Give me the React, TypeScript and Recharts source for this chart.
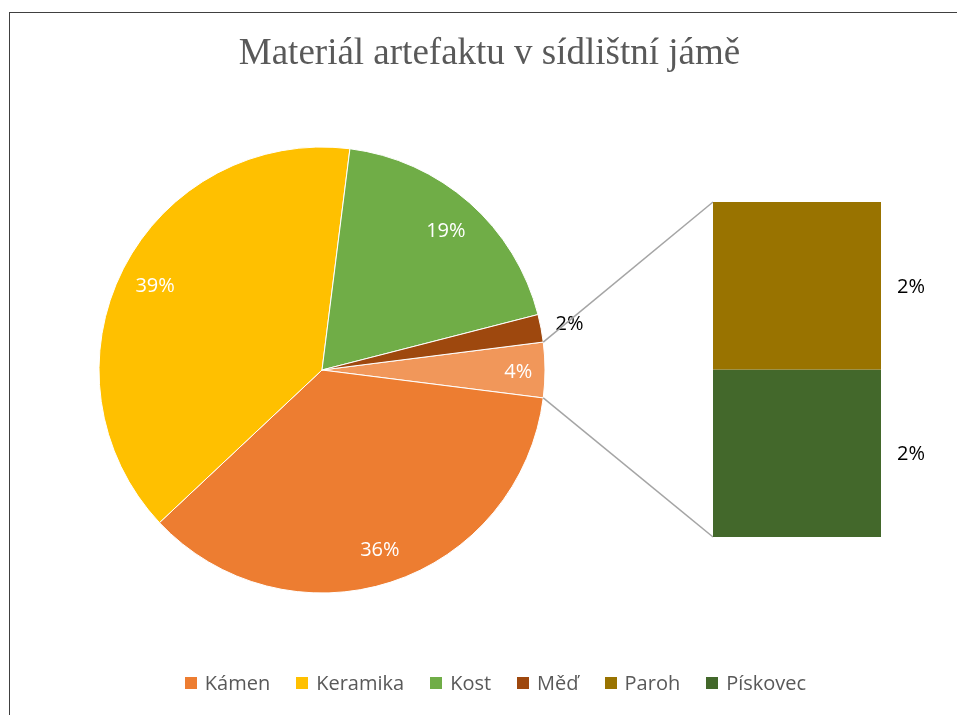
import { PieChart, Pie, Cell, BarChart, Bar, XAxis, YAxis, LabelList, Legend, Customized } from 'recharts'

// data (percent of artefacts)
const categories = ['Kámen', 'Keramika', 'Kost', 'Měď', 'Paroh', 'Pískovec']
const values = [36, 39, 19, 2, 2, 2]
const colors = ['#ED7D31', '#FFC000', '#70AD47', '#9E480E', '#997300', '#43682B']
const otherParts = ['Paroh', 'Pískovec']
const otherName = 'Ostatní'
const otherColor = '#F1975A'

const TITLE = 'Materiál artefaktu v sídlištní jámě'

const W = 941
const H = 699
const PIE_CX = 314
const PIE_CY = 362
const PIE_R = 223
const BAR_X = 705
const BAR_Y = 194
const BAR_W = 168
const BAR_H = 335
const RADIAN = Math.PI / 180
const SANS = "'Open Sans', 'Noto Sans', sans-serif"
const TEXT_GREY = '#595959'

const total = values.reduce((s, v) => s + v, 0)
const valueOf = (name: string) => values[categories.indexOf(name)]
const colorOf = (name: string) => colors[categories.indexOf(name)]
const otherValue = otherParts.reduce((s, n) => s + valueOf(n), 0)

const pieData = [
  { name: otherName, value: otherValue, color: otherColor },
  ...categories
    .filter((c) => !otherParts.includes(c))
    .map((c) => ({ name: c, value: valueOf(c), color: colorOf(c) })),
]

// one stacked column, first part at the top
const barRow: Record<string, string | number> = { name: otherName }
otherParts.forEach((p) => (barRow[p] = valueOf(p)))
const barData = [barRow]

// "other" slice centred on the right side, slices run clockwise
const startAngle = (otherValue / total) * 180
const endAngle = startAngle - 360

function PieLabel(props: any) {
  const { cx, cy, midAngle, outerRadius, percent } = props
  const outside = percent < 0.03
  const r = outside ? outerRadius + 29 : outerRadius * (percent < 0.05 ? 0.88 : 0.84)
  const x = cx + r * Math.cos(-midAngle * RADIAN)
  const y = cy + r * Math.sin(-midAngle * RADIAN)
  return (
    <text
      x={x}
      y={y}
      fill={outside ? '#000' : '#fff'}
      textAnchor="middle"
      dominantBaseline="central"
      fontSize={20}
      fontFamily={SANS}
    >
      {Math.round(percent * 100)}%
    </text>
  )
}

function Title() {
  return (
    <text
      x={481.5}
      y={56}
      textAnchor="middle"
      fontSize={37}
      fontFamily="'Liberation Serif', 'DejaVu Serif', serif"
      fill={TEXT_GREY}
    >
      {TITLE}
    </text>
  )
}

function Connectors() {
  const a = startAngle * RADIAN
  const x0 = PIE_CX + PIE_R * Math.cos(a)
  const yTop = PIE_CY - PIE_R * Math.sin(a)
  const yBot = PIE_CY + PIE_R * Math.sin(a)
  return (
    <g stroke="#A5A5A5" strokeWidth={1.5}>
      <line x1={x0} y1={yTop} x2={BAR_X} y2={BAR_Y} />
      <line x1={x0} y1={yBot} x2={BAR_X} y2={BAR_Y + BAR_H} />
    </g>
  )
}

function LegendContent() {
  return (
    <div style={{ display: 'flex', justifyContent: 'center', alignItems: 'center', gap: 26 }}>
      {categories.map((c, i) => (
        <div key={c} style={{ display: 'flex', alignItems: 'center', gap: 8 }}>
          <span style={{ width: 12, height: 12, background: colors[i], display: 'inline-block' }} />
          <span style={{ fontFamily: SANS, fontSize: 20, color: TEXT_GREY, lineHeight: '24px' }}>{c}</span>
        </div>
      ))}
    </div>
  )
}

export default function App() {
  const pct = (v: any) => `${Math.round((Number(v) / total) * 100)}%`

  return (
    <div style={{ position: 'relative', width: W, height: H, overflow: 'hidden', background: '#fff' }}>
      {/* chart frame: only its top and left edges fall inside the window */}
      <div
        style={{
          position: 'fixed',
          left: 9,
          top: 12,
          width: 2000,
          height: 2000,
          borderTop: '1px solid #404040',
          borderLeft: '1px solid #404040',
          pointerEvents: 'none',
        }}
      />
      <div style={{ position: 'absolute', left: 0, top: 0 }}>
        <PieChart width={W} height={H} margin={{ top: 0, right: 0, bottom: 0, left: 0 }}>
          <Customized component={Title} />
          <Pie
            data={pieData}
            dataKey="value"
            nameKey="name"
            cx={PIE_CX}
            cy={PIE_CY}
            outerRadius={PIE_R}
            startAngle={startAngle}
            endAngle={endAngle}
            stroke="#fff"
            strokeWidth={1}
            label={PieLabel}
            labelLine={false}
            isAnimationActive={false}
          >
            {pieData.map((d) => (
              <Cell key={d.name} fill={d.color} />
            ))}
          </Pie>
          <Legend
            content={<LegendContent />}
            wrapperStyle={{ position: 'absolute', left: 0, top: 663, width: 975, height: 24 }}
          />
        </PieChart>
      </div>
      <div style={{ position: 'absolute', left: 0, top: 0 }}>
        <BarChart
          width={W}
          height={H}
          data={barData}
          barCategoryGap={0}
          margin={{ left: BAR_X, top: BAR_Y, right: W - BAR_X - BAR_W, bottom: H - BAR_Y - BAR_H }}
        >
          <XAxis dataKey="name" hide />
          <YAxis type="number" domain={[0, otherValue]} hide />
          <Customized component={Connectors} />
          {[...otherParts].reverse().map((p) => (
            <Bar key={p} dataKey={p} stackId="other" fill={colorOf(p)} isAnimationActive={false}>
              <LabelList
                dataKey={p}
                position="right"
                offset={16}
                formatter={pct}
                fill="#000"
                fontSize={20}
                fontFamily={SANS}
              />
            </Bar>
          ))}
        </BarChart>
      </div>
    </div>
  )
}
